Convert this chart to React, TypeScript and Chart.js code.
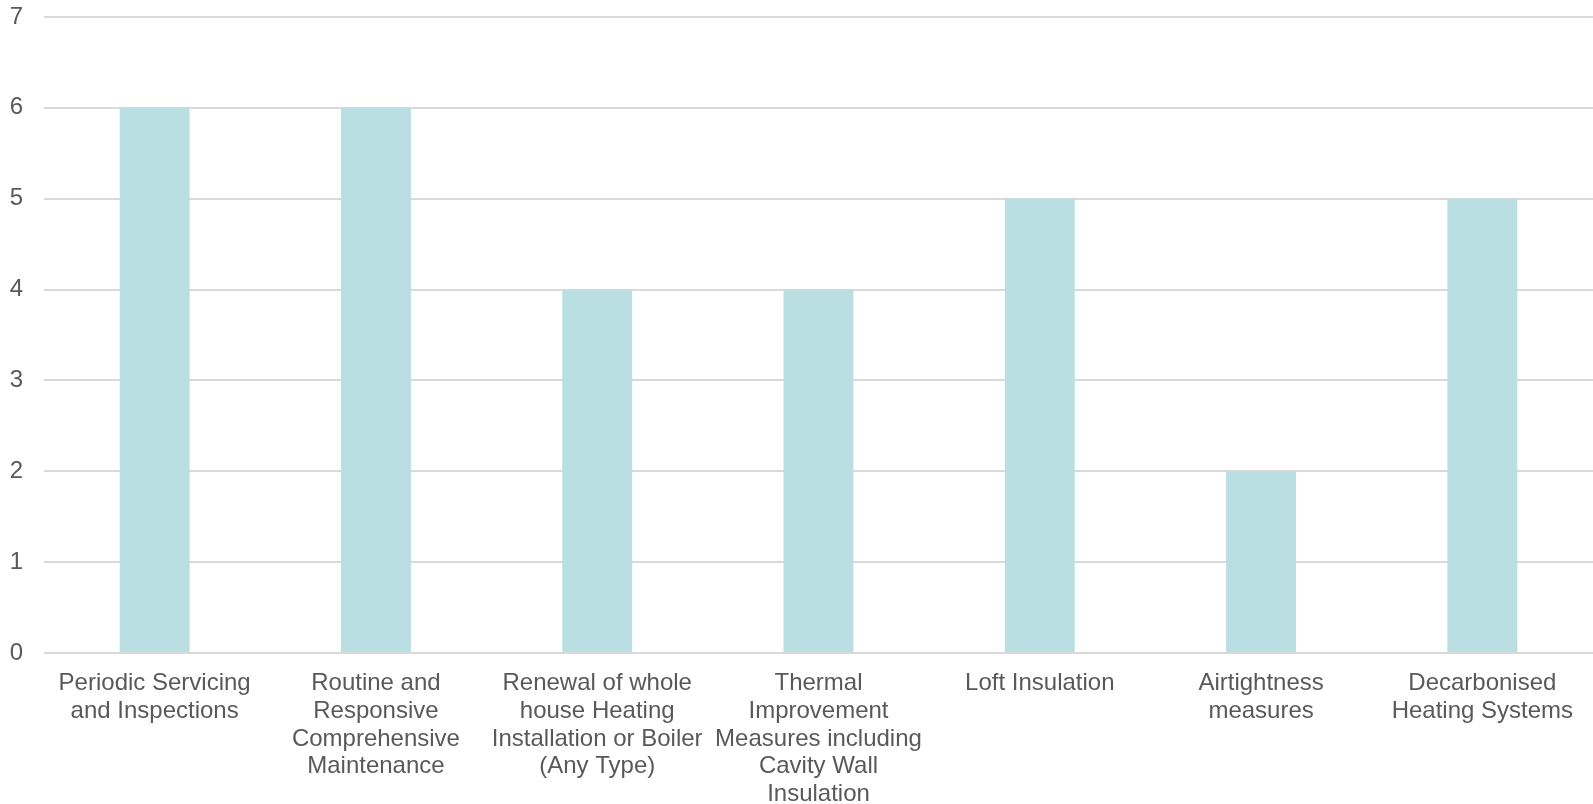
import React, { useEffect, useRef } from "react";
import { Chart, registerables } from "chart.js";

Chart.register(...registerables);

const categories: string[][] = [
  ["Periodic Servicing", "and Inspections"],
  ["Routine and", "Responsive", "Comprehensive", "Maintenance"],
  ["Renewal of whole", "house Heating", "Installation or Boiler", "(Any Type)"],
  ["Thermal", "Improvement", "Measures including", "Cavity Wall", "Insulation"],
  ["Loft Insulation"],
  ["Airtightness", "measures"],
  ["Decarbonised", "Heating Systems"],
];

const counts: number[] = [6, 6, 4, 4, 5, 2, 5];

const yMin = 0;
const yMax = 7;
const yStep = 1;

const BAR_COLOR = "#BADFE3";
const GRID_COLOR = "#D9D9D9";
const TEXT_COLOR = "#595959";
const FONT = "Arial, 'Liberation Sans', sans-serif";

export default function App() {
  const canvasRef = useRef<HTMLCanvasElement | null>(null);

  useEffect(() => {
    document.body.style.margin = "0";
    const canvas = canvasRef.current;
    if (!canvas) return;
    const chart = new Chart(canvas, {
      type: "bar",
      data: {
        labels: categories,
        datasets: [
          {
            data: counts,
            backgroundColor: BAR_COLOR,
            borderWidth: 0,
            categoryPercentage: 1,
            barPercentage: 0.316,
          },
        ],
      },
      options: {
        responsive: false,
        animation: false,
        maintainAspectRatio: false,
        layout: { padding: 0 },
        plugins: {
          legend: { display: false },
          tooltip: { enabled: false },
        },
        scales: {
          x: {
            grid: { display: false, drawTicks: false },
            border: { display: false },
            ticks: {
              color: TEXT_COLOR,
              font: { family: FONT, size: 24, lineHeight: 1.15 },
              padding: 17,
              maxRotation: 0,
              autoSkip: false,
            },
            afterFit: (axis: any) => {
              axis.height = 151;
            },
          },
          y: {
            min: yMin,
            max: yMax,
            grid: { color: GRID_COLOR, lineWidth: 2, drawTicks: false },
            border: { display: false },
            ticks: {
              stepSize: yStep,
              color: TEXT_COLOR,
              font: { family: FONT, size: 24 },
              padding: 21,
            },
            afterFit: (axis: any) => {
              axis.width = 44;
              axis.paddingTop = 17;
              axis.paddingBottom = 0;
            },
          },
        },
      },
    });
    return () => chart.destroy();
  }, []);

  return (
    <div style={{ width: 1593, height: 804 }}>
      <canvas ref={canvasRef} width={1593} height={804} style={{ display: "block" }} />
    </div>
  );
}
